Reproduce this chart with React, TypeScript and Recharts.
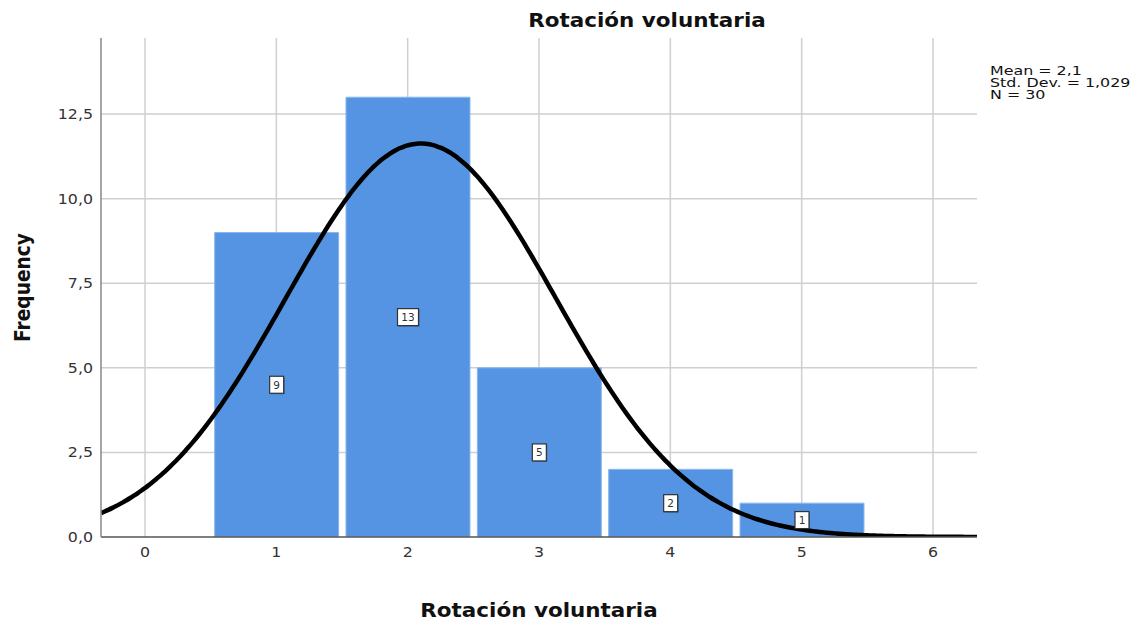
import React from 'react';
import { ComposedChart, Bar, Line, XAxis, YAxis, CartesianGrid, LabelList, Label } from 'recharts';

// Histogram of "Rotación voluntaria" with fitted normal curve
const categories = [1, 2, 3, 4, 5];
const frequencies = [9, 13, 5, 2, 1];
const xTicks = [0, 1, 2, 3, 4, 5, 6];
const yTicks = [0, 2.5, 5, 7.5, 10, 12.5];

// Summary statistics shown in the side note; the normal curve is fitted from them
const MEAN = 2.1;
const SD = 1.029;
const N = 30;
const BIN_WIDTH = 1;

const X_DOMAIN: [number, number] = [-0.335, 6.335];
const Y_DOMAIN: [number, number] = [0, 14.75];

const barData = categories.map((x, i) => ({ x, count: frequencies[i] }));

// Expected frequency under the normal distribution with the stated mean / SD
const CURVE_STEPS = 240;
const curveData = Array.from({ length: CURVE_STEPS + 1 }, (_, i) => {
  const x = X_DOMAIN[0] + ((X_DOMAIN[1] - X_DOMAIN[0]) * i) / CURVE_STEPS;
  const z = (x - MEAN) / SD;
  const y = ((N * BIN_WIDTH) / (SD * Math.sqrt(2 * Math.PI))) * Math.exp(-0.5 * z * z);
  return { x, y };
});

const FONT = '"DejaVu Sans", "Open Sans", sans-serif';
const STRETCH = 1.13;
const fmtY = (v: number) => v.toFixed(1).replace('.', ',');

const XTick = (props: any) => {
  const { x, y, payload } = props;
  return (
    <text
      transform={`translate(${x},${y}) scale(${STRETCH},1)`}
      textAnchor="middle"
      dy="0.85em"
      fontSize={14}
      fontFamily={FONT}
      fill="#333333"
    >
      {String(payload.value)}
    </text>
  );
};

const YTick = (props: any) => {
  const { x, y, payload } = props;
  return (
    <text
      transform={`translate(${x},${y}) scale(${STRETCH},1)`}
      textAnchor="end"
      dy="0.36em"
      fontSize={14}
      fontFamily={FONT}
      fill="#333333"
    >
      {fmtY(payload.value)}
    </text>
  );
};

const XTitle = (props: any) => {
  const { viewBox } = props;
  const cx = viewBox.x + viewBox.width / 2;
  const by = viewBox.y + viewBox.height - 6;
  return (
    <text
      transform={`translate(${cx},${by}) scale(${STRETCH},1)`}
      textAnchor="middle"
      fontSize={19}
      fontWeight="bold"
      fontFamily={FONT}
      fill="#111111"
    >
      Rotación voluntaria
    </text>
  );
};

const YTitle = (props: any) => {
  const { viewBox } = props;
  const cy = viewBox.y + viewBox.height / 2;
  const cx = 22;
  return (
    <text
      transform={`translate(${cx},${cy}) rotate(-90) scale(0.98,${STRETCH})`}
      textAnchor="middle"
      dy="0.36em"
      fontSize={19}
      fontWeight="bold"
      fontFamily={FONT}
      fill="#111111"
    >
      Frequency
    </text>
  );
};

const CountBadge = (props: any) => {
  const { x, y, width, height, value } = props;
  const cx = x + width / 2;
  const cy = y + height / 2;
  const text = String(value);
  const w = text.length > 1 ? 21 : 14;
  const h = 17;
  return (
    <g>
      <rect x={cx - w / 2 + 1} y={cy - h / 2 + 1} width={w} height={h} fill="rgba(0,0,0,0.3)" />
      <rect x={cx - w / 2} y={cy - h / 2} width={w} height={h} fill="#ffffff" stroke="#333333" strokeWidth={1.2} />
      <text x={cx} y={cy + 4} textAnchor="middle" fontSize={10.5} fontFamily={FONT} fill="#333333">
        {text}
      </text>
    </g>
  );
};

export default function App() {
  return (
    <div style={{ position: 'absolute', left: 0, top: 0, width: 1141, height: 623, background: '#ffffff' }}>
      <div
        style={{
          position: 'absolute',
          left: 0,
          width: 1294,
          top: 6,
          textAlign: 'center',
          fontFamily: FONT,
          fontWeight: 'bold',
          fontSize: 19,
          color: '#111111',
          lineHeight: '28px',
          transform: `scaleX(${STRETCH})`,
        }}
      >
        Rotación voluntaria
      </div>
      <div
        style={{
          position: 'absolute',
          left: 990,
          top: 65,
          fontFamily: FONT,
          fontSize: 13,
          color: '#111111',
          lineHeight: '12px',
          whiteSpace: 'pre',
          transform: 'scaleX(1.22)',
          transformOrigin: '0 0',
        }}
      >
        {`Mean = 2,1\nStd. Dev. = 1,029\nN = 30`}
      </div>
      <ComposedChart
        width={1141}
        height={623}
        data={barData}
        margin={{ top: 38, right: 164, bottom: 0, left: 41 }}
        style={{ position: 'absolute', left: 0, top: 0 }}
      >
        <CartesianGrid
          stroke="#cfcfcf"
          strokeWidth={1.5}
          horizontalValues={yTicks.slice(1)}
          verticalValues={xTicks}
        />
        <XAxis
          dataKey="x"
          type="number"
          domain={X_DOMAIN}
          ticks={xTicks}
          allowDataOverflow
          height={86}
          tickLine={false}
          axisLine={{ stroke: '#555555', strokeWidth: 1.5 }}
          tick={<XTick />}
        >
          <Label content={<XTitle />} />
        </XAxis>
        <XAxis xAxisId="curve" dataKey="x" type="number" domain={X_DOMAIN} allowDataOverflow hide />
        <YAxis
          type="number"
          domain={Y_DOMAIN}
          ticks={yTicks}
          allowDataOverflow
          width={60}
          tickLine={false}
          axisLine={{ stroke: '#888888', strokeWidth: 1.5 }}
          tick={<YTick />}
        >
          <Label content={<YTitle />} />
        </YAxis>
        <Bar dataKey="count" barSize={124} fill="#5594e3" stroke="#8db6ee" strokeWidth={1} isAnimationActive={false}>
          <LabelList dataKey="count" content={CountBadge} />
        </Bar>
        <Line
          xAxisId="curve"
          data={curveData}
          dataKey="y"
          type="monotone"
          stroke="#000000"
          strokeWidth={4.5}
          dot={false}
          activeDot={false}
          isAnimationActive={false}
        />
      </ComposedChart>
    </div>
  );
}
